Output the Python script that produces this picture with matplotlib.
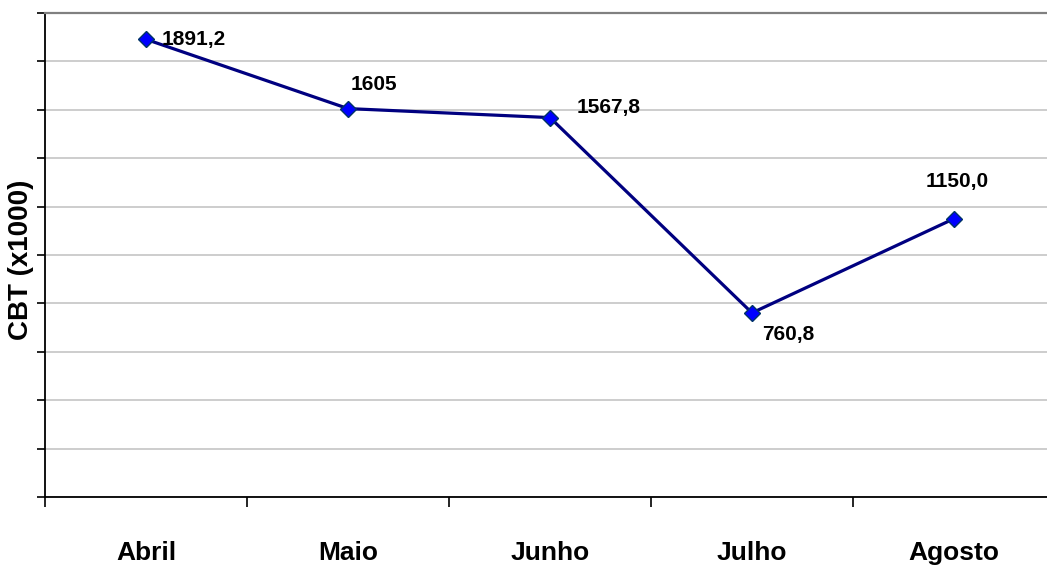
import matplotlib
matplotlib.use('Agg')
import matplotlib.pyplot as plt
from matplotlib.ticker import MultipleLocator, FixedLocator, NullFormatter

# ===== 数据 =====
meses = ['Abril', 'Maio', 'Junho', 'Julho', 'Agosto']
cbt = [1891.2, 1605, 1567.8, 760.8, 1150.0]
rotulos = ['1891,2', '1605', '1567,8', '760,8', '1150,0']
# 标签相对数据点的偏移 (像素)
offsets = [(16, 0, 'left'), (3, 24, 'left'), (27, 10, 'left'),
           (10, -22, 'left'), (3, 37, 'center')]

plt.rcParams['font.family'] = ['Liberation Sans', 'DejaVu Sans']
plt.rcParams['font.weight'] = 'bold'

fig = plt.figure(figsize=(10.47, 5.65), dpi=100)
ax = fig.add_axes([45 / 1047, 68 / 565, 1010 / 1047, 484 / 565])

xs = [i + 0.5 for i in range(len(meses))]
ax.plot(xs, cbt, color='#000080', linewidth=2.3, marker='D', markersize=8,
        markerfacecolor='#0000FF', markeredgecolor='#003366',
        markeredgewidth=1.0, zorder=3)

for x, y, txt, (dx, dy, ha) in zip(xs, cbt, rotulos, offsets):
    ax.annotate(txt, (x, y), xytext=(dx, dy), textcoords='offset pixels',
                ha=ha, va='center', fontsize=15, fontweight='bold')

ax.set_xlim(0, len(meses))
ax.set_ylim(0, 2000)

# 网格与坐标轴
ax.yaxis.set_major_locator(MultipleLocator(200))
ax.yaxis.set_major_formatter(NullFormatter())
ax.grid(axis='y', color='#c0c0c0', linewidth=1.1)
ax.set_axisbelow(True)

ax.xaxis.set_major_locator(FixedLocator(xs))
ax.set_xticklabels(meses, fontsize=19, fontweight='bold')
ax.xaxis.set_minor_locator(FixedLocator(range(len(meses) + 1)))
ax.tick_params(axis='x', which='major', length=0, pad=32)
ax.tick_params(axis='x', which='minor', length=7, width=1.2, direction='out')
ax.tick_params(axis='y', length=6, width=1.2, direction='out')

ax.spines['top'].set_color('#808080')
ax.spines['top'].set_linewidth(1.6)
ax.spines['right'].set_visible(False)
ax.spines['left'].set_linewidth(1.3)
ax.spines['bottom'].set_linewidth(1.3)

ax.set_ylabel('CBT (x1000)', fontsize=20, fontweight='bold')
ax.yaxis.set_label_coords(-0.011, 0.49)

fig.savefig('out.png', dpi=100)
